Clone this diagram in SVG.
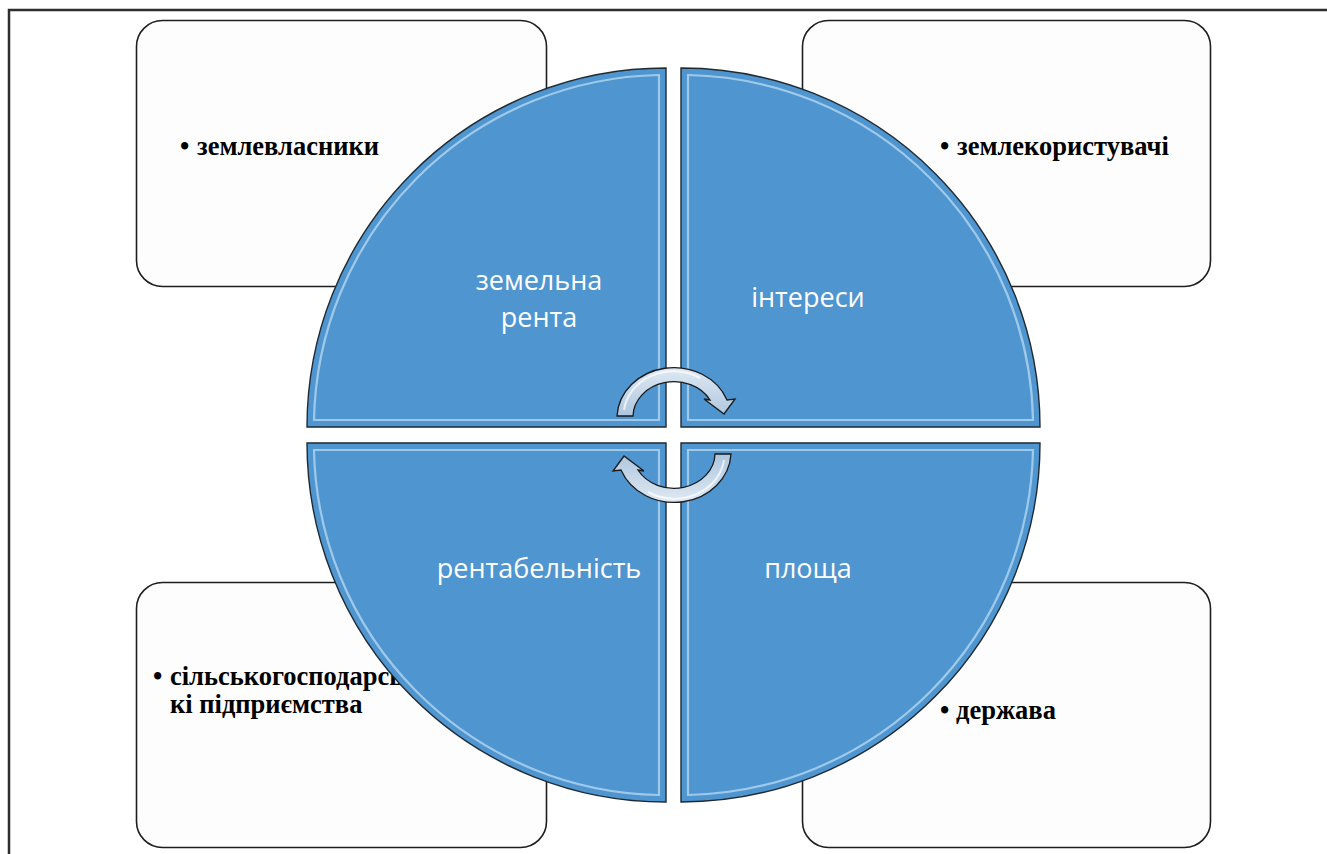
<svg xmlns="http://www.w3.org/2000/svg" width="1327" height="854" viewBox="0 0 1327 854">
<defs>
<style>
.box{fill:#fdfdfd;stroke:#1e1e1e;stroke-width:1.6}
.bt{font-family:"Liberation Serif","Times New Roman",serif;font-weight:bold;font-size:26.5px;fill:#000}
.q{fill:#4f95d0;stroke:#1f2a33;stroke-width:1.4}
.hl{fill:none;stroke:#d6ecfa;stroke-width:2.2;opacity:0.6}
.ql{font-family:"Open Sans","Noto Sans","DejaVu Sans",sans-serif;font-size:27px;fill:#ffffff;text-anchor:middle}
.arr{fill:url(#ag);stroke:#1a1a1a;stroke-width:1.3}
.arrhl{fill:none;stroke:#ffffff;stroke-width:2;opacity:0.7}
</style>
<linearGradient id="ag" x1="0" y1="0" x2="0" y2="1">
<stop offset="0" stop-color="#dfe9f3"/>
<stop offset="1" stop-color="#aec6de"/>
</linearGradient>
</defs>
<rect x="0" y="0" width="1327" height="854" fill="#ffffff"/>
<rect x="9" y="10" width="1340" height="870" fill="#ffffff" stroke="#2e2e2e" stroke-width="2.5"/>

<g id="box-tl"><rect class="box" x="136.5" y="20.5" width="410" height="266" rx="26"/><text class="bt" x="180" y="155">•<tspan x="197">землевласники</tspan></text></g>
<g id="box-tr"><rect class="box" x="802.5" y="20.5" width="408" height="266" rx="26"/><text class="bt" x="940" y="155">•<tspan x="957">землекористувачі</tspan></text></g>
<g id="box-bl"><rect class="box" x="136.5" y="582.5" width="410" height="265" rx="26"/><text class="bt" x="153" y="685">•<tspan x="170">сільськогосподарсь</tspan></text><text class="bt" x="170" y="713">кі підприємства</text></g>
<g id="box-br"><rect class="box" x="802.5" y="582.5" width="408" height="265" rx="26"/><text class="bt" x="940" y="719">•<tspan x="956">держава</tspan></text></g>

<g id="q-tl">
<path class="q" d="M666,427 L307,427 A359,359 0 0 1 666,68 Z"/>
<path class="hl" d="M659,420 L314,420 A352,352 0 0 1 659,75 Z"/>
<text class="ql" x="539" y="290">земельна</text>
<text class="ql" x="539" y="327">рента</text>
</g>
<g id="q-tr">
<path class="q" d="M681,427 L681,68 A359,359 0 0 1 1040,427 Z"/>
<path class="hl" d="M688,420 L688,75 A352,352 0 0 1 1033,420 Z"/>
<text class="ql" x="808" y="307">інтереси</text>
</g>
<g id="q-bl">
<path class="q" d="M666,443 L666,802 A359,359 0 0 1 307,443 Z"/>
<path class="hl" d="M659,450 L659,795 A352,352 0 0 1 314,450 Z"/>
<text class="ql" x="539" y="578">рентабельність</text>
</g>
<g id="q-br">
<path class="q" d="M681,443 L1040,443 A359,359 0 0 1 681,802 Z"/>
<path class="hl" d="M688,450 L1033,450 A352,352 0 0 1 688,795 Z"/>
<text class="ql" x="808" y="578">площа</text>
</g>

<g id="connectors">
<g id="arrow-top">
<path class="arr" d="M617,416 A57,51 0 0 1 727,400 L735,399 L724,414 L704,399 L710,400 A41,35 0 0 0 633,416 Z"/>
<path class="arrhl" d="M624,410 A50,44 0 0 1 700,378"/>
</g>
<g id="arrow-bottom" transform="rotate(180 674 435)">
<path class="arr" d="M617,416 A57,51 0 0 1 727,400 L735,399 L724,414 L704,399 L710,400 A41,35 0 0 0 633,416 Z"/>
<path class="arrhl" d="M624,410 A50,44 0 0 1 700,378"/>
</g>
</g>
</svg>
